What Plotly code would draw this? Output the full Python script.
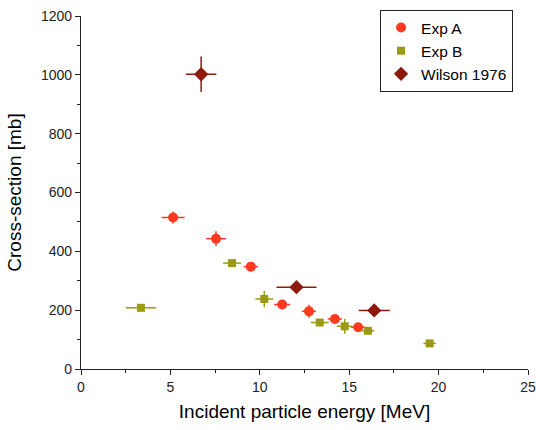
import plotly.graph_objects as go

# Exp A
a_x = [5.15, 7.55, 9.5, 11.25, 12.75, 14.2, 15.5]
a_y = [515, 443, 348, 219, 196, 170, 142]
a_xerr = [0.65, 0.55, 0.4, 0.45, 0.4, 0.4, 0.4]
a_yerr = [20, 25, 12, 12, 22, 12, 10]

# Exp B
b_x = [3.35, 8.45, 10.25, 13.35, 14.75, 16.05, 19.5]
b_y = [208, 360, 238, 158, 145, 130, 87]
b_xerr = [0.85, 0.5, 0.5, 0.5, 0.45, 0.35, 0.35]
b_yerr = [10, 12, 28, 10, 25, 8, 8]

# Wilson 1976
w_x = [6.72, 12.05, 16.4]
w_y = [1002, 278, 199]
w_xerr = [0.85, 1.12, 0.87]
w_yerr = [60, 20, 10]

fig = go.Figure()

def add(name, x, y, xe, ye, color, symbol, size):
    fig.add_trace(go.Scatter(
        x=x, y=y, mode="markers", name=name,
        marker=dict(color=color, symbol=symbol, size=size),
        error_x=dict(type="data", array=xe, visible=True, color=color, thickness=1.5, width=0),
        error_y=dict(type="data", array=ye, visible=True, color=color, thickness=1.5, width=0),
    ))

add("Exp A", a_x, a_y, a_xerr, a_yerr, "#FF3A1F", "circle", 10)
add("Exp B", b_x, b_y, b_xerr, b_yerr, "#9A9A14", "square", 8)
add("Wilson 1976", w_x, w_y, w_xerr, w_yerr, "#8E1A0E", "diamond", 11)

font_family = "Liberation Sans, Arial, sans-serif"
fig.update_layout(
    width=536, height=430,
    margin=dict(l=81, r=8, t=16, b=61),
    paper_bgcolor="white", plot_bgcolor="white",
    font=dict(family=font_family, color="#222222", size=14),
    showlegend=True,
    legend=dict(x=0.669, y=1.017, xanchor="left", yanchor="top",
                bordercolor="#222222", borderwidth=1, bgcolor="white",
                font=dict(size=15.5, family=font_family, color="black"),
                itemsizing="trace", tracegroupgap=0),
    xaxis=dict(range=[0, 25], tickvals=[0, 5, 10, 15, 20, 25],
               automargin=False, ticklabeloverflow="allow",
               showline=True, linecolor="#222222", linewidth=1.2,
               ticks="outside", ticklen=5, tickcolor="#222222",
               minor=dict(ticks="outside", ticklen=3, tickcolor="#222222", dtick=2.5),
               showgrid=False, zeroline=False,
               title=dict(text="Incident particle energy [MeV]", font=dict(size=19, color="black"), standoff=10)),
    yaxis=dict(range=[0, 1200], tickvals=[0, 200, 400, 600, 800, 1000, 1200],
               automargin=False, ticklabeloverflow="allow",
               showline=True, linecolor="#222222", linewidth=1.2,
               ticks="outside", ticklen=5, tickcolor="#222222",
               minor=dict(ticks="outside", ticklen=3, tickcolor="#222222", dtick=100),
               showgrid=False, zeroline=False,
               title=dict(text="Cross-section [mb]", font=dict(size=19, color="black"), standoff=14)),
)

# remove the default 8px page margin so the 536x430 figure fills the window exactly
fig.write_html("out.html", config={"displayModeBar": False},
               post_script="document.body.style.margin='0px';")
